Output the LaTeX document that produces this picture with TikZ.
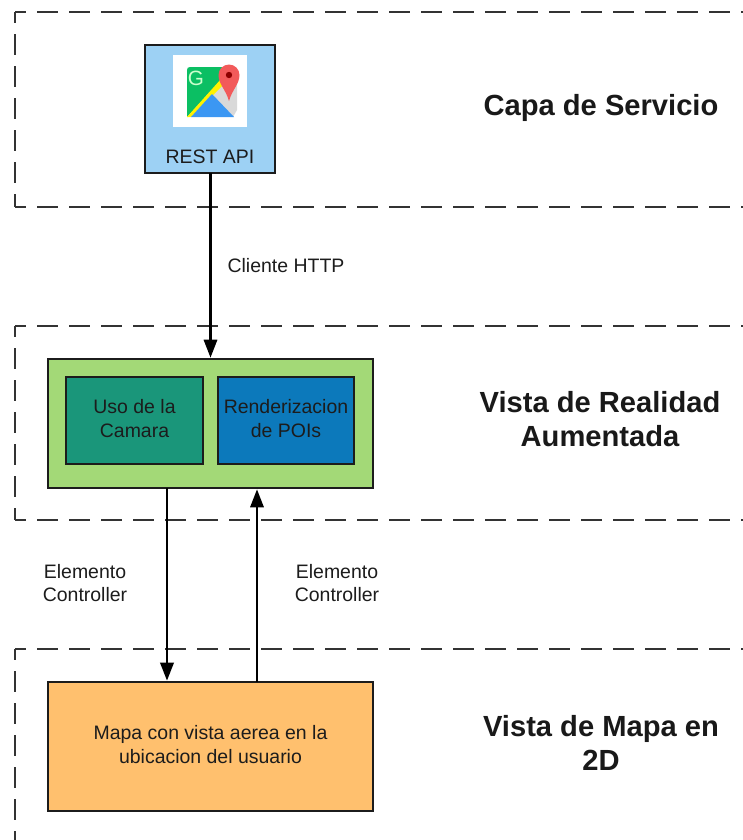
\documentclass[tikz,border=0pt]{standalone}
\usepackage{fontspec}
\setmainfont{Liberation Sans}
\usetikzlibrary{arrows.meta}
\definecolor{ink}{HTML}{1C1C1C}
\definecolor{capa}{HTML}{9DD1F4}
\definecolor{verde}{HTML}{A3D977}
\definecolor{teal}{HTML}{1A967A}
\definecolor{azul}{HTML}{0C79BB}
\definecolor{naranja}{HTML}{FFC06E}
\definecolor{mapgreen}{HTML}{0BBF63}
\definecolor{mapblue}{HTML}{3B97F3}
\definecolor{mapred}{HTML}{F25A5A}
\newcommand{\raised}[1]{\raisebox{1.2pt}{\renewcommand{\arraystretch}{1.04}\begin{tabular}{@{}c@{}}#1\end{tabular}}}
\tikzset{
  x=0.75pt,y=-0.75pt,
  layer/.style={draw=ink!90,line width=1.8pt,dash pattern=on 15.75pt off 8.25pt,dash phase=7.5pt},
  boxnode/.style n args={3}{draw=ink,line width=1.6pt,fill=#3,rectangle,outer sep=0pt,inner sep=0pt,
    minimum width=#1*0.75pt,minimum height=#2*0.75pt,align=center,text=ink},
  small/.style={font=\fontsize{14.6pt}{17.3pt}\selectfont},
  title/.style={font=\bfseries\fontsize{21.85pt}{25.5pt}\selectfont,align=center,text=black!90},
  lbl/.style={small,align=center,text=ink},
  conn/.style={draw=black,line width=1.7pt,-{Triangle[length=13.5pt,width=10pt]},shorten >=1pt}
}
\begin{document}
\begin{tikzpicture}
\useasboundingbox (0,0) rectangle (743,840);
\fill[white] (0,0) rectangle (743,840);
\begin{scope}
\clip (0,0) rectangle (743,840);
\draw[layer] (15,12) -- (760,12);
\draw[layer] (15,12) -- (15,207);
\draw[layer] (15,207) -- (760,207);
\draw[layer] (15,326) -- (760,326);
\draw[layer] (15,326) -- (15,520);
\draw[layer] (15,520) -- (760,520);
\draw[layer] (15,649) -- (760,649);
\draw[layer] (15,649) -- (15,860);
\end{scope}
% boxes
\node[boxnode={130}{128}{capa},anchor=north west] (rest) at (145,45) {};
\node[small,text=ink] (restlabel) at (210,157) {REST API};
\node[boxnode={325}{129}{verde},anchor=north west] (ar) at (48,359) {};
\node[boxnode={137}{87}{teal},small,anchor=north west] (camara) at (66,377) {\raised{Uso de la\\Camara}};
\node[boxnode={136}{87}{azul},small,anchor=north west] (poi) at (218,377) {\raised{Renderizacion\\de POIs}};
\node[boxnode={325}{129}{naranja},small,anchor=north west] (mapa) at (48,682) {\raised{Mapa con vista aerea en la\\ubicacion del usuario}};
% icon
\fill[white] (173,55) rectangle (247,127);
\fill[black!15] (220,82) -- (230,70) -- (237,80) -- (237,110) -- (233,117) -- (212,94) -- cycle;
\fill[mapgreen] (187,117) -- (187,70) .. controls (187,68) and (188,67) .. (190,67) -- (224,67) -- (221,80) -- cycle;
\fill[yellow] (187,117) -- (191,117) -- (224,84) -- (221,79) -- cycle;
\fill[mapblue] (191,117) -- (212,94) -- (234,117) -- cycle;
\fill[mapred] (229,101) .. controls (226,90) and (218.5,84) .. (218.5,75) arc[start angle=180,end angle=360,radius=10.5] .. controls (239.5,84) and (232,90) .. (229,101) -- cycle;
\fill[red!55!black] (229,75) circle[radius=3.2];
\node[text=white!80!green,font=\fontsize{15.5pt}{15.5pt}\selectfont,inner sep=0pt] (glabel) at (196,78) {G};
% connectors
\coordinate (downx) at (167,0);
\coordinate (upx) at (257,0);
\draw[conn] (rest.south -| ar.north) -- (ar.north);
\draw[conn,line width=1.9pt] (ar.south -| downx) -- (mapa.north -| downx);
\draw[conn] (mapa.north -| upx) -- (ar.south -| upx);
% labels
\node[lbl] (http) at (286,266) {Cliente HTTP};
\node[lbl] (ctrlA) at (85,583) {Elemento\\Controller};
\node[lbl] (ctrlB) at (337,583) {Elemento\\Controller};
\node[title] (t1) at (601,108) {Capa de Servicio};
\node[title] (t2) at (600,419.5) {Vista de Realidad\\Aumentada};
\node[title] (t3) at (601,743) {Vista de Mapa en\\2D};
\end{tikzpicture}
\end{document}
